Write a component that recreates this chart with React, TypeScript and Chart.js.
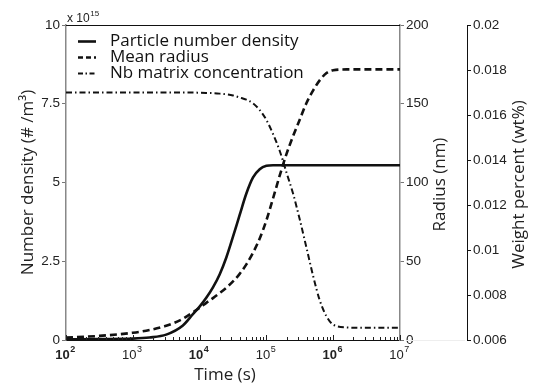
import React, { useEffect, useRef } from "react";
import { Chart, registerables } from "chart.js";

Chart.register(...registerables);

// Time (s), log-spaced samples
const times = [
  100, 316, 1000, 1778, 3162, 5623, 7943, 10000, 12589, 15849, 19953, 25119,
  31623, 39811, 50119, 63096, 79433, 100000, 125893, 158489, 199526, 251189,
  316228, 398107, 501187, 630957, 794328, 1000000, 1584893, 3162278, 10000000,
];

// Particle number density (x 1e15 #/m^3)
const numberDensity = [
  0.02, 0.03, 0.045, 0.08, 0.17, 0.46, 0.82, 1.06, 1.34, 1.67, 2.08, 2.62,
  3.28, 3.97, 4.65, 5.16, 5.42, 5.53, 5.55, 5.55, 5.55, 5.55, 5.55, 5.55,
  5.55, 5.55, 5.55, 5.55, 5.55, 5.55, 5.55,
];

// Mean radius (nm)
const meanRadius = [
  1.6, 2.6, 4.6, 6.3, 9.0, 13.5, 17.6, 20.4, 23.6, 26.6, 29.8, 33.2, 37.2,
  42.0, 48.0, 55.4, 64.5, 76.0, 90.0, 104.5, 118.0, 129.5, 140.0, 150.5,
  158.5, 165.0, 169.5, 171.3, 171.8, 171.8, 171.8,
];

// Nb matrix concentration (wt%)
const nbConcentration = [
  0.017, 0.017, 0.017, 0.017, 0.017, 0.017, 0.017, 0.01699, 0.01698, 0.01697,
  0.01695, 0.01692, 0.01687, 0.01678, 0.01668, 0.01652, 0.01622, 0.01578,
  0.01515, 0.0144, 0.01345, 0.0125, 0.01135, 0.0101, 0.00884, 0.00775,
  0.00705, 0.00668, 0.00656, 0.00654, 0.00654,
];

const densityTicks = [0, 2.5, 5, 7.5, 10];
const radiusTicks = [0, 50, 100, 150, 200];
const weightTicks = [0.006, 0.008, 0.01, 0.012, 0.014, 0.016, 0.018, 0.02];
const timeExponents = [2, 3, 4, 5, 6, 7];

const seriesNames = [
  "Particle number density",
  "Mean radius",
  "Nb matrix concentration",
];

const titleFont = "17px 'Open Sans'";
const tickFamily = "'Liberation Sans', Arial, sans-serif";

const dashRadius = [7, 4];
const dashConc = [6, 3, 1.5, 3];

const decoPlugin = {
  id: "deco",
  afterDraw(chart: any) {
    const ctx = chart.ctx as CanvasRenderingContext2D;
    const ca = chart.chartArea;
    const xs = chart.scales.x;
    ctx.save();

    // top frame line
    ctx.strokeStyle = "#111";
    ctx.lineWidth = 1;
    ctx.beginPath();
    ctx.moveTo(ca.left, Math.round(ca.top) + 0.5);
    ctx.lineTo(ca.right, Math.round(ca.top) + 0.5);
    ctx.stroke();

    // faint baseline between right axes
    ctx.strokeStyle = "#eeeeee";
    ctx.beginPath();
    ctx.moveTo(ca.right + 6, Math.round(ca.bottom) + 0.5);
    ctx.lineTo(chart.scales.y2.left - 2, Math.round(ca.bottom) + 0.5);
    ctx.stroke();

    // inward x ticks (log minor + major)
    ctx.strokeStyle = "#222";
    ctx.lineWidth = 1;
    for (const e of timeExponents) {
      const base = Math.pow(10, e);
      for (let m = 1; m <= 9; m++) {
        const v = base * m;
        if (v > 1e7 + 1) break;
        const px = Math.round(xs.getPixelForValue(v)) + 0.5;
        const len = m === 1 ? 5 : 3;
        ctx.beginPath();
        ctx.moveTo(px, ca.bottom);
        ctx.lineTo(px, ca.bottom - len);
        ctx.stroke();
      }
    }

    // x tick labels 10^n
    ctx.fillStyle = "#222";
    ctx.textAlign = "left";
    ctx.textBaseline = "alphabetic";
    for (const e of timeExponents) {
      const px = xs.getPixelForValue(Math.pow(10, e));
      const weight = e % 2 === 0 ? "bold " : "";
      ctx.font = weight + "13px " + tickFamily;
      const w1 = ctx.measureText("10").width;
      ctx.font = weight + "9px " + tickFamily;
      const w2 = ctx.measureText(String(e)).width;
      const start = px - (w1 + w2) / 2 - 1;
      ctx.font = weight + "13px " + tickFamily;
      ctx.fillText("10", start, 359);
      ctx.font = weight + "9px " + tickFamily;
      ctx.fillText(String(e), start + w1 + 0.5, 352);
    }

    // axis titles
    ctx.fillStyle = "#222";
    ctx.font = titleFont;
    ctx.textAlign = "center";
    ctx.fillText("Time (s)", (ca.left + ca.right) / 2 - 8, 380);

    const midY = (ca.top + ca.bottom) / 2;
    const vTitle = (text: string, x: number, y: number) => {
      ctx.save();
      ctx.translate(x, y);
      ctx.rotate(-Math.PI / 2);
      ctx.textAlign = "center";
      ctx.fillText(text, 0, 0);
      ctx.restore();
    };
    vTitle("Number density (# /m\u00B3)", 33, midY);
    vTitle("Radius (nm)", 445, midY + 2);
    vTitle("Weight percent (wt%)", 524, midY + 2);

    // multiplier
    ctx.textAlign = "left";
    ctx.font = "12px " + tickFamily;
    ctx.fillText("x 10", ca.left + 1, 22);
    const wx = ctx.measureText("x 10").width;
    ctx.font = "8px " + tickFamily;
    ctx.fillText("15", ca.left + 1 + wx + 0.5, 16);

    // legend
    const rows = [41.5, 57.5, 73.5];
    const dashes = [[], [5, 3], [5, 2.5, 1.5, 2.5]];
    const widths = [2.6, 2.6, 2];
    ctx.strokeStyle = "#111";
    for (let i = 0; i < 3; i++) {
      ctx.setLineDash(dashes[i]);
      ctx.lineWidth = widths[i];
      ctx.beginPath();
      ctx.moveTo(ca.left + 12, rows[i]);
      ctx.lineTo(ca.left + 30, rows[i]);
      ctx.stroke();
    }
    ctx.setLineDash([]);
    ctx.fillStyle = "#111";
    ctx.font = titleFont;
    for (let i = 0; i < 3; i++) {
      ctx.fillText(seriesNames[i], ca.left + 44, rows[i] + 4.5);
    }
    ctx.restore();
  },
};

export default function App() {
  const canvasRef = useRef<HTMLCanvasElement | null>(null);

  useEffect(() => {
    const canvas = canvasRef.current;
    if (!canvas) return;
    const tickFont = { family: tickFamily, size: 13.5 };
    const chart = new Chart(canvas, {
      type: "line",
      data: {
        datasets: [
          {
            label: seriesNames[0],
            data: times.map((t, i) => ({ x: t, y: numberDensity[i] })),
            yAxisID: "y",
            borderColor: "#111",
            borderWidth: 2.6,
            pointRadius: 0,
            cubicInterpolationMode: "monotone",
          },
          {
            label: seriesNames[1],
            data: times.map((t, i) => ({ x: t, y: meanRadius[i] })),
            yAxisID: "y1",
            borderColor: "#111",
            borderWidth: 2.6,
            borderDash: dashRadius,
            pointRadius: 0,
            cubicInterpolationMode: "monotone",
          },
          {
            label: seriesNames[2],
            data: times.map((t, i) => ({ x: t, y: nbConcentration[i] })),
            yAxisID: "y2",
            borderColor: "#111",
            borderWidth: 2,
            borderDash: dashConc,
            pointRadius: 0,
            cubicInterpolationMode: "monotone",
          },
        ],
      },
      options: {
        responsive: false,
        maintainAspectRatio: false,
        devicePixelRatio: 1,
        animation: false,
        layout: { padding: { top: 25, left: 0, right: 0, bottom: 0 } },
        plugins: {
          legend: { display: false },
          tooltip: { enabled: false },
        },
        scales: {
          x: {
            type: "logarithmic",
            position: "bottom",
            min: 100,
            max: 10000000,
            ticks: { display: false },
            grid: { display: false },
            border: { display: true, color: "#111", width: 1 },
            afterFit: (s: any) => {
              s.height = 45;
            },
          },
          y: {
            type: "linear",
            position: "left",
            min: 0,
            max: 10,
            afterBuildTicks: (s: any) => {
              s.ticks = densityTicks.map((v) => ({ value: v }));
            },
            ticks: {
              font: tickFont,
              color: "#222",
              padding: 2,
              callback: (v: any) => String(v),
            },
            grid: {
              drawOnChartArea: false,
              tickLength: 4,
              color: "#777",
            },
            border: { color: "#888", width: 1.5 },
            afterFit: (s: any) => {
              s.width = 66;
            },
          },
          y1: {
            type: "linear",
            position: "right",
            weight: 0,
            min: 0,
            max: 200,
            afterBuildTicks: (s: any) => {
              s.ticks = radiusTicks.map((v) => ({ value: v }));
            },
            ticks: {
              font: tickFont,
              color: "#222",
              padding: 2,
              callback: (v: any) => String(v),
            },
            grid: {
              drawOnChartArea: false,
              tickLength: 4,
              color: "#777",
            },
            border: { color: "#888", width: 1.5 },
            afterFit: (s: any) => {
              s.width = 67;
            },
          },
          y2: {
            type: "linear",
            position: "right",
            weight: 1,
            min: 0.006,
            max: 0.02,
            afterBuildTicks: (s: any) => {
              s.ticks = weightTicks.map((v) => ({ value: v }));
            },
            ticks: {
              font: tickFont,
              color: "#222",
              padding: 2,
              callback: (v: any) => String(v),
            },
            grid: {
              drawOnChartArea: false,
              tickLength: 4,
              color: "#111",
            },
            border: { color: "#111", width: 1 },
            afterFit: (s: any) => {
              s.width = 66;
            },
          },
        },
      } as any,
      plugins: [decoPlugin],
    });
    return () => chart.destroy();
  }, []);

  return (
    <div style={{ position: "absolute", left: 0, top: 0, width: 533, height: 385, background: "#fff" }}>
      <canvas ref={canvasRef} width={533} height={385} style={{ display: "block" }} />
    </div>
  );
}
